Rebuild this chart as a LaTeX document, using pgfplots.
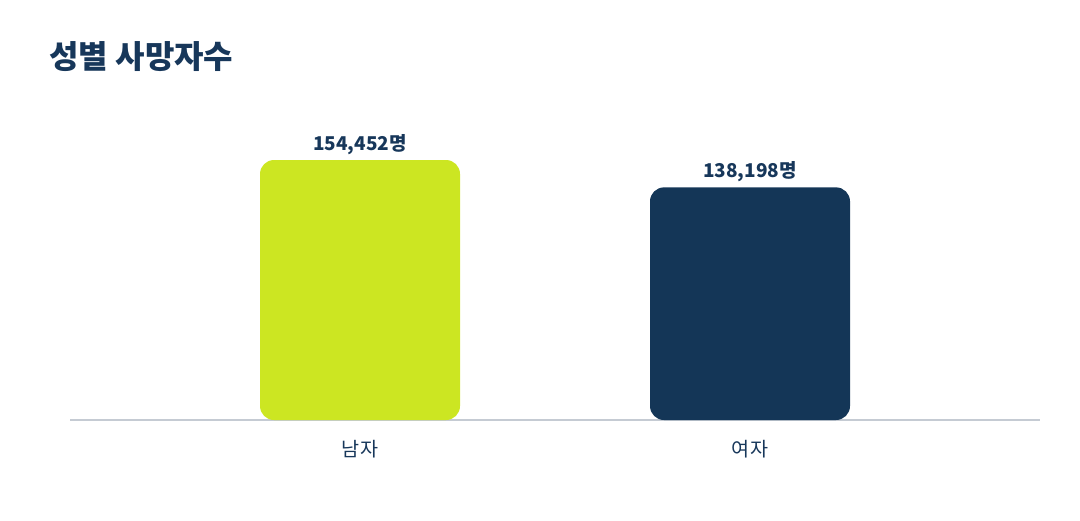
\documentclass[border=0pt]{standalone}
\usepackage{pgfplots}
\pgfplotsset{compat=1.18}
\usepackage{fontspec}
\setmainfont{Noto Sans CJK KR}
\definecolor{limebar}{HTML}{CCE622}
\definecolor{navybar}{HTML}{143657}
\definecolor{navytext}{HTML}{17375A}
\definecolor{axisgray}{HTML}{C5CBD3}
\begin{document}
\begin{tikzpicture}
\useasboundingbox (0,0) rectangle (540pt,260pt);
\node[anchor=base west, inner sep=0pt, text=navytext, font=\fontsize{16}{19}\selectfont\bfseries] at (24.5pt,225.5pt) {성별 사망자수};
\begin{axis}[
  at={(35pt,50pt)}, anchor=south west,
  scale only axis,
  width=485pt, height=151.5pt,
  xmin=-0.7436, xmax=1.7436,
  ymin=0, ymax=180000,
  axis x line*=bottom,
  axis y line=none,
  axis line style={draw=axisgray, line width=1pt, -},
  xtick={0,1},
  xticklabels={남자,여자},
  major tick length=0pt,
  xticklabel style={text=navytext, font=\fontsize{9.8}{12}\selectfont, yshift=-6.5pt},
  ybar, bar width=100pt, bar shift=0pt,
  point meta=explicit symbolic,
  nodes near coords,
  nodes near coords style={text=navytext, font=\fontsize{9.5}{11}\selectfont\bfseries, yshift=-1pt},
  clip=false,
]
\addplot[fill=limebar, draw=none, rounded corners=7pt] coordinates {(0,154452) [154,452명]};
\addplot[fill=navybar, draw=none, rounded corners=7pt] coordinates {(1,138198) [138,198명]};
\end{axis}
\end{tikzpicture}
\end{document}
